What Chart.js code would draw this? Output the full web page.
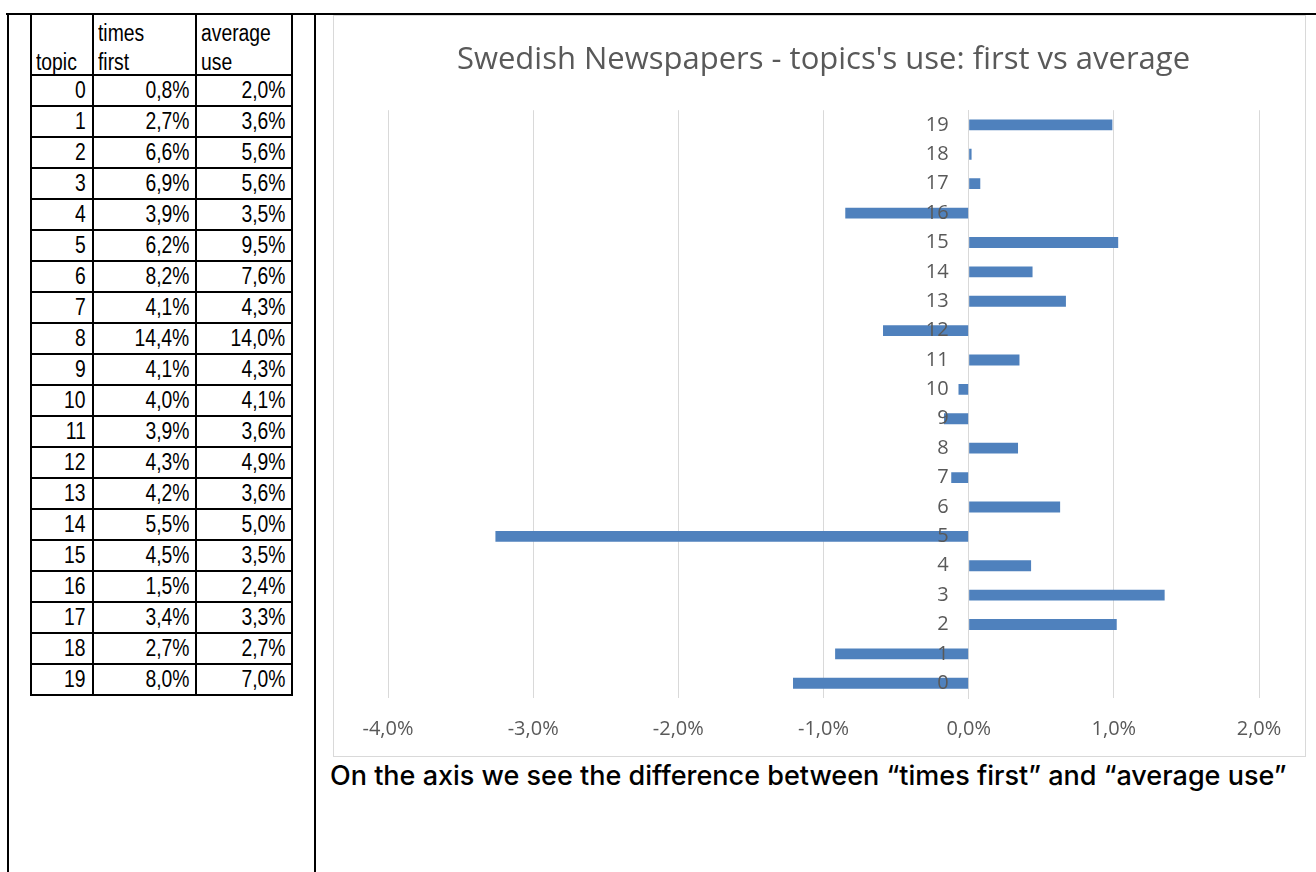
<!DOCTYPE html>
<html><head><meta charset="utf-8">
<script src="https://cdn.jsdelivr.net/npm/chart.js@4/dist/chart.umd.min.js"></script>
<style>
html,body{margin:0;padding:0;background:#fff;}
body{width:1316px;height:872px;overflow:hidden;position:relative;}
.hline{position:absolute;left:6px;top:13px;width:1310px;height:2px;background:#000;}
.vline{position:absolute;top:13px;width:2px;height:859px;background:#000;}
#tbl{position:absolute;left:30px;top:13px;border-collapse:collapse;table-layout:fixed;
 font-family:"Liberation Sans",Arial,sans-serif;font-size:23px;color:#000;}
#tbl td{border:2px solid #000;line-height:29px;white-space:nowrap;overflow:hidden;}
#tbl tr.h td{height:59px;vertical-align:bottom;text-align:left;padding:0 0 0 4px;}
#tbl tr.d td{height:29px;text-align:right;vertical-align:middle;padding:0 6px 0 0;}
#tbl span{display:inline-block;transform:scaleX(0.84);}
#tbl tr.h span{transform-origin:left center;line-height:29px;position:relative;top:3px;}
#tbl tr.d span{transform-origin:right center;}
#chartbox{position:absolute;left:333px;top:15px;width:971px;height:740px;border:1px solid #d9d9d9;}
#caption{position:absolute;left:330px;top:759px;font-family:Inter,"Open Sans",sans-serif;font-size:27px;font-weight:500;color:#000;white-space:nowrap;}
</style></head>
<body>
<div class="hline"></div>
<div class="vline" style="left:7px"></div>
<div class="vline" style="left:314px"></div>
<table id="tbl">
 <colgroup><col style="width:62px"><col style="width:103px"><col style="width:96px"></colgroup>
 <tbody id="tb"></tbody>
</table>
<div id="chartbox"><canvas id="c"></canvas></div>
<div id="caption">On the axis we see the difference between “times first” and “average use”</div>
<script>
const topics = ["0","1","2","3","4","5","6","7","8","9","10","11","12","13","14","15","16","17","18","19"];
const timesFirst = ["0,8%","2,7%","6,6%","6,9%","3,9%","6,2%","8,2%","4,1%","14,4%","4,1%","4,0%","3,9%","4,3%","4,2%","5,5%","4,5%","1,5%","3,4%","2,7%","8,0%"];
const averageUse = ["2,0%","3,6%","5,6%","5,6%","3,5%","9,5%","7,6%","4,3%","14,0%","4,3%","4,1%","3,6%","4,9%","3,6%","5,0%","3,5%","2,4%","3,3%","2,7%","7,0%"];
const difference = [-1.21,-0.92,1.02,1.35,0.43,-3.26,0.63,-0.12,0.34,-0.17,-0.07,0.35,-0.59,0.67,0.44,1.03,-0.85,0.08,0.02,0.99];
const xTicks = [-4,-3,-2,-1,0,1,2];
const chartTitle = "Swedish Newspapers - topics's use: first vs average";
const headers = ["topic", "times<br>first", "average<br>use"];

// table
const tb = document.getElementById('tb');
let html = '<tr class="h">' + headers.map(h => '<td><span>' + h + '</span></td>').join('') + '</tr>';
for (let i = 0; i < topics.length; i++) {
  html += '<tr class="d"><td><span>' + topics[i] + '</span></td><td><span>' + timesFirst[i] +
          '</span></td><td><span>' + averageUse[i] + '</span></td></tr>';
}
tb.innerHTML = html;

const fmt = v => (Math.abs(v) < 1e-9 ? 0 : v).toFixed(1).replace('.', ',') + '%';

new Chart(document.getElementById('c'), {
  type: 'bar',
  data: {
    labels: topics,
    datasets: [{
      data: difference,
      backgroundColor: '#4f81bd',
      borderWidth: 0,
      categoryPercentage: 1,
      barPercentage: 0.37
    }]
  },
  options: {
    responsive: true,
    maintainAspectRatio: false,
    animation: false,
    indexAxis: 'y',
    layout: { padding: { left: 54, right: 46, top: 0, bottom: 14 } },
    plugins: {
      legend: { display: false },
      tooltip: { enabled: false },
      title: {
        display: true, text: chartTitle, color: '#595959',
        font: { family: 'Open Sans', size: 31, weight: 'normal' },
        padding: { top: 26, bottom: 31 }
      }
    },
    scales: {
      x: {
        type: 'linear', min: xTicks[0], max: xTicks[xTicks.length - 1],
        afterBuildTicks: s => { s.ticks = xTicks.map(v => ({ value: v })); },
        afterFit: s => { s.height = 44; },
        ticks: { callback: v => fmt(v), color: '#595959', font: { family: 'Open Sans', size: 20 }, padding: 19 },
        grid: { color: '#d9d9d9', drawTicks: false },
        border: { display: false }
      },
      y: {
        position: { x: 0 },
        reverse: true,
        grid: { display: false, drawTicks: false },
        border: { color: '#d9d9d9', width: 1 },
        ticks: {
          z: 1,
          callback: function (v) { return this.getLabelForValue(v) + '\u2003'; },
          color: '#595959', font: { family: 'Open Sans', size: 20 }, padding: 0
        }
      }
    }
  }
});
</script>
</body></html>
